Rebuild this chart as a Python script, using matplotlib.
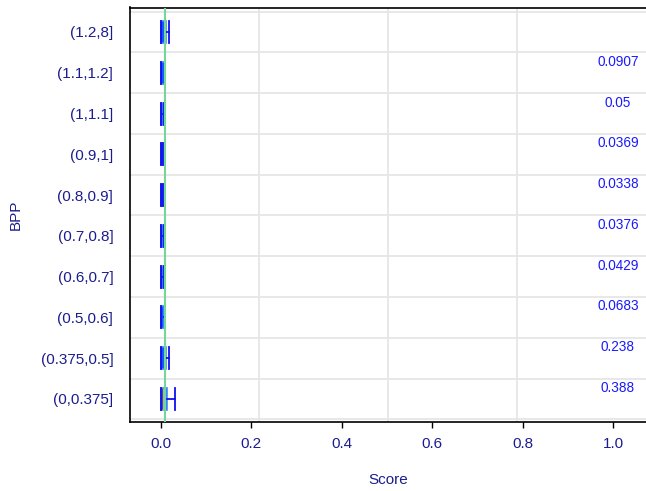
import matplotlib
matplotlib.use("Agg")
import matplotlib.pyplot as plt

plt.rcParams['font.family'] = ['Liberation Sans', 'DejaVu Sans']

# BPP bins, listed bottom to top
bins = ["(0,0.375]", "(0.375,0.5]", "(0.5,0.6]", "(0.6,0.7]", "(0.7,0.8]",
        "(0.8,0.9]", "(0.9,1]", "(1,1.1]", "(1.1,1.2]", "(1.2,8]"]

# Score distribution per bin (same order as bins)
whislo = [0.0, 0.0, 0.0, 0.0, 0.0, 0.0, 0.0, 0.0, 0.0, 0.0]
q1     = [0.0, 0.0, 0.0, 0.0, 0.0, 0.0, 0.0, 0.0, 0.0, 0.0]
med    = [0.007, 0.0, 0.0, 0.0, 0.0, 0.0, 0.0, 0.0, 0.0, 0.0]
q3     = [0.014, 0.011, 0.007, 0.005, 0.005, 0.004, 0.004, 0.005, 0.008, 0.011]
whishi = [0.031, 0.018, 0.008, 0.006, 0.006, 0.005, 0.005, 0.006, 0.009, 0.018]

# Annotated values, for bins (0,0.375] .. (1.1,1.2]
annot = [0.388, 0.238, 0.0683, 0.0429, 0.0376, 0.0338, 0.0369, 0.05, 0.0907]
annot_text = ["0.388", "0.238", "0.0683", "0.0429", "0.0376", "0.0338",
              "0.0369", "0.05", "0.0907"]

ref_score = 0.009
xticks = [0.0, 0.2, 0.4, 0.6, 0.8, 1.0]

W, H = 646, 491
fig = plt.figure(figsize=(W / 100, H / 100), dpi=100)
ax = fig.add_axes([130 / W, 1 - 422 / H, (646 - 130) / W, (422 - 7.5) / H])

xlim = (-0.0686, 1.073)
ax.set_xlim(*xlim)
ax.set_ylim(-0.564, 9.6)

# background grid: quarters of the x range, bin boundaries on y
span = xlim[1] - xlim[0]
for k in range(1, 4):
    ax.axvline(xlim[0] + span * k / 4, color="#e6e6e6", lw=1.3, zorder=0)
for b in range(len(bins) + 1):
    ax.axhline(b - 0.5, color="#e6e6e6", lw=1.3, zorder=0)

stats = []
for i in range(len(bins)):
    stats.append(dict(whislo=whislo[i], q1=q1[i], med=med[i], q3=q3[i],
                      whishi=whishi[i], fliers=[]))

bw = 0.54
bp = ax.bxp(stats, positions=list(range(len(bins))), orientation="horizontal",
            widths=bw, capwidths=bw, patch_artist=True, showfliers=False,
            manage_ticks=False,
            boxprops=dict(facecolor="#1456ff", edgecolor="#3d8bff", lw=1.2),
            whiskerprops=dict(color="#1010ee", lw=1.3),
            capprops=dict(color="#1010ee", lw=1.3),
            medianprops=dict(color="#1456ff", lw=1.0))
for i, m in enumerate(bp["medians"]):
    if med[i] > q1[i]:
        m.set_color("#f2c500")
        m.set_linewidth(2.0)
for c in bp["caps"]:
    c.set_zorder(3)

ax.axvline(ref_score, color="#74d79a", lw=1.5, zorder=4)

for i, (v, t) in enumerate(zip(annot, annot_text)):
    ax.text(1.011, i + 0.27, t, color="#1a1aff", fontsize=9.8,
            ha="center", va="center")

ax.set_xticks(xticks)
ax.set_xticklabels([f"{t:.1f}" for t in xticks])
ax.set_yticks(range(len(bins)))
ax.set_yticklabels(bins)

label_color = "#1c1c8f"
ax.tick_params(axis="x", length=4, width=1, color="black", pad=7,
               labelsize=11, labelcolor=label_color)
ax.tick_params(axis="y", length=0, pad=12, labelsize=11,
               labelcolor=label_color)

for s in ["left", "top", "bottom"]:
    ax.spines[s].set_color("black")
    ax.spines[s].set_linewidth(1.2)
ax.spines["right"].set_visible(False)

ax.set_xlabel("Score", fontsize=11, color=label_color, labelpad=16)
ax.set_ylabel("BPP", fontsize=11, color=label_color, labelpad=13)

fig.savefig("out.png", dpi=100)
